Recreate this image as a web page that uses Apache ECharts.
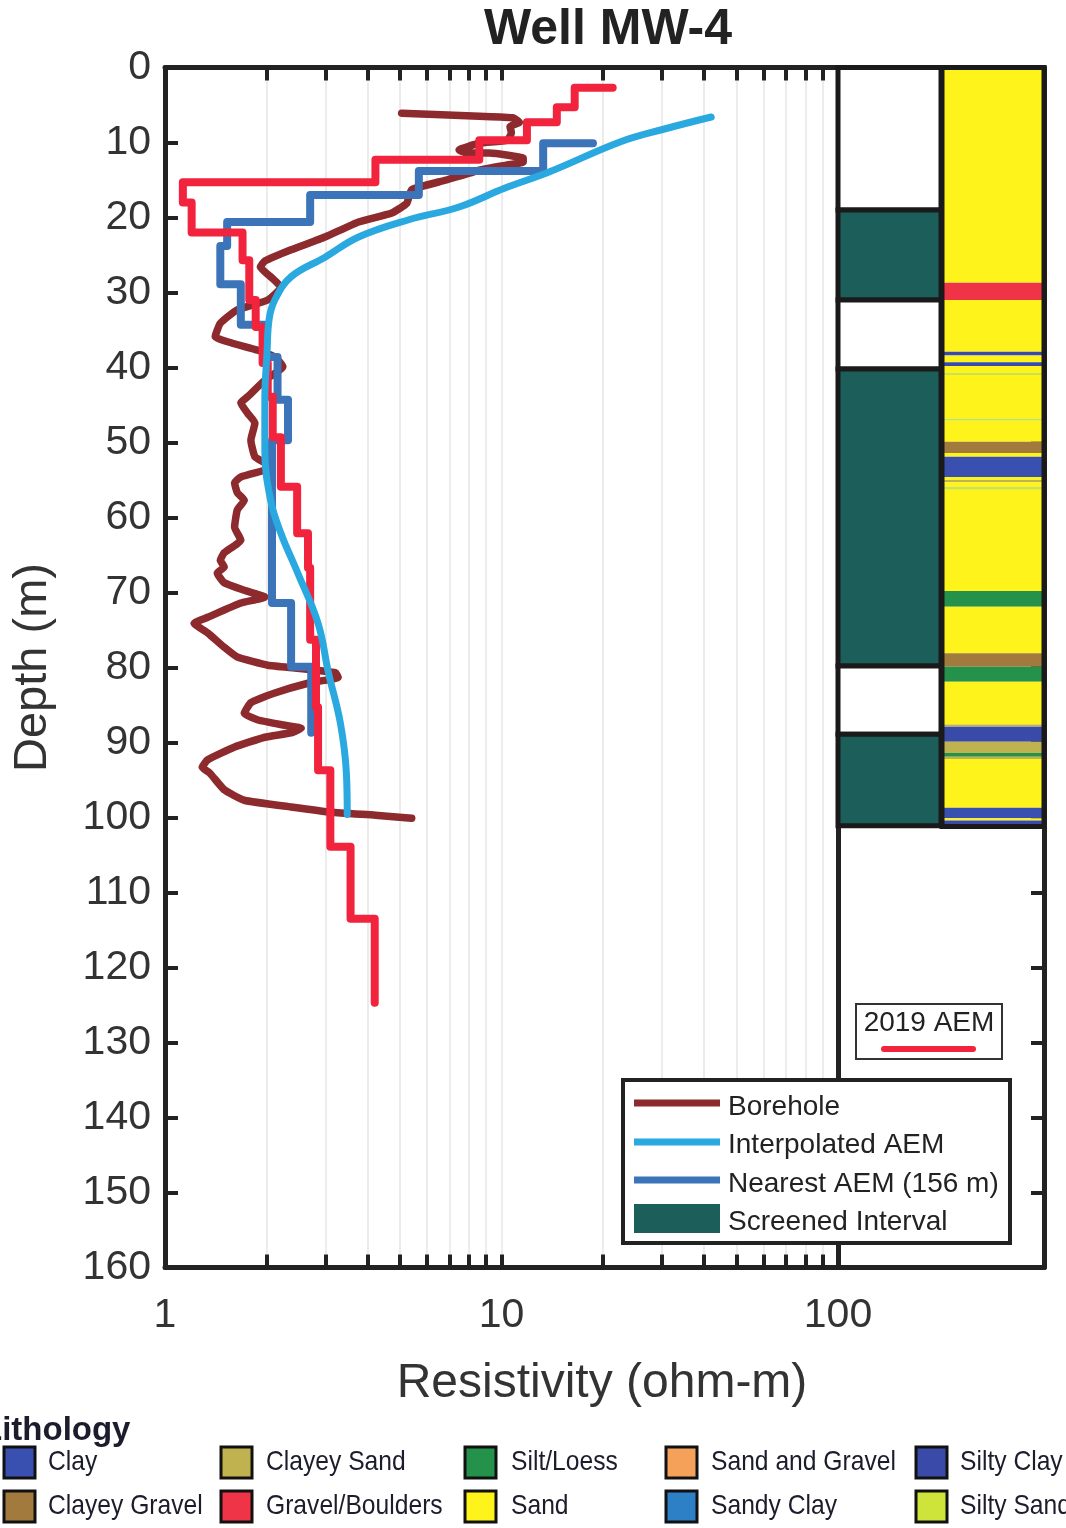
<!DOCTYPE html>
<html><head><meta charset="utf-8">
<script src="https://cdn.jsdelivr.net/npm/echarts@6/dist/echarts.min.js"></script>
<style>html,body{margin:0;padding:0;background:#fff}#c{width:1066px;height:1528px}</style>
</head><body><div id="c"></div>
<script>
// ---------------- DATA ----------------
// Borehole resistivity log (ohm-m) vs depth (m)
const boreholeRes = [5.05,8.59,10.8,11.3,10.6,10.7,10.4,8.59,7.48,7.86,9.20,11.6,11.6,10.4,8.59,6.85,5.41,5.23,4.72,3.76,2.99,2.37,1.98,1.92,2.06,2.21,2.02,1.64,1.46,1.41,1.57,1.89,2.12,2.24,1.98,1.76,1.68,1.76,1.85,1.80,1.85,1.98,2.06,1.98,1.68,1.61,1.64,1.72,1.64,1.61,1.68,1.50,1.46,1.50,1.43,1.50,1.72,1.98,1.68,1.34,1.22,1.34,1.50,1.64,2.02,2.48,3.21,3.27,2.66,2.12,1.80,1.72,1.89,2.27,2.54,2.37,1.98,1.61,1.34,1.29,1.36,1.50,1.72,2.37,3.12,4.22,5.41];
const boreholeDepth = [6.1,6.5,6.7,7.3,7.9,8.7,9.7,10.1,11.0,11.4,11.4,12.1,12.6,13.0,13.7,15.0,16.3,18.1,19.4,20.6,22.6,24.3,25.8,26.6,27.9,29.3,31.0,32.3,34.1,35.9,36.7,37.7,38.6,39.9,41.7,43.9,44.7,46.1,47.4,49.7,51.9,52.7,53.3,53.7,54.6,55.4,56.7,57.7,59.0,61.3,63.0,64.7,65.7,66.6,67.4,68.7,69.7,70.6,71.4,73.3,74.1,75.4,77.3,78.6,79.7,80.1,80.7,81.3,82.1,83.4,84.7,86.1,87.0,87.7,88.1,88.7,89.3,90.6,92.3,93.3,94.1,96.3,97.7,98.6,99.3,99.7,100.1];

// Interpolated AEM (smooth)
const interpRes = [42.0,30.5,22.6,13.9,10.2,7.48,5.30,3.76,2.99,2.37,2.12,2.04,2.01,1.98,1.98,2.06,2.21,2.48,2.85,3.06,3.32,3.46,3.48];
const interpDepth = [6.6,8.2,9.9,13.9,16.1,18.6,20.3,22.6,25.3,27.9,31.0,33.5,38.0,44.3,51.0,57.7,62.1,67.4,74.1,80.7,87.4,94.1,99.6];

// Nearest AEM (156 m) layered model
const nearestStart = [18.7, 10.1];
const nearestBounds = [10.1,13.8,17.0,20.6,23.8,28.9,34.3,38.6,44.3,49.7,71.4,79.9,88.7];
const nearestRes = [13.3,5.68,2.70,1.53,1.46,1.68,1.98,2.16,2.32,2.08,2.37,2.72];

// 2019 AEM layered model
const aemStart = [21.4, 2.7];
const aemBounds = [2.7,5.3,7.3,9.7,12.3,15.3,18.0,22.0,25.7,31.0,34.6,39.4,43.9,49.3,55.9,62.1,66.7,76.3,85.3,93.7,103.9,113.5,124.7];
const aemRes = [16.5,14.6,11.9,8.59,4.22,1.13,1.20,1.70,1.78,1.86,1.95,2.02,2.09,2.21,2.47,2.66,2.70,2.81,2.85,3.10,3.56,4.20];

// Screened intervals
const screenTop = [0,19.0,31.0,40.2,79.8,88.9];
const screenBottom = [19.0,31.0,40.2,79.8,88.9,101.1];
const screenKind = ['Blank','Screened','Blank','Screened','Blank','Screened'];

// Lithology log
const lithTop =    [0,28.7,31.0,37.9,38.4,39.3,39.8,40.7,41.0,46.8,47.1,49.9,51.4,51.9,54.6,55.0,55.3,55.9,56.3,69.8,71.9,78.1,79.9,81.9,87.6,87.9,89.9,91.4,91.9,92.2,98.7,100.1,100.4,100.9];
const lithBottom = [28.7,31.0,37.9,38.4,39.3,39.8,40.7,41.0,46.8,47.1,49.9,51.4,51.9,54.6,55.0,55.3,55.9,56.3,69.8,71.9,78.1,79.9,81.9,87.6,87.9,89.9,91.4,91.9,92.2,98.7,100.1,100.4,100.9,101.2];
const lithType = ['Sand','Gravel/Boulders','Sand','Silty Clay','Sand','Silty Clay','Sand','Silty Sand','Sand','Silty Sand','Sand','Clayey Gravel','Sand','Clay','Sand','Clayey Sand','Sand','Silty Sand','Sand','Silt/Loess','Sand','Clayey Gravel','Silt/Loess','Sand','Clayey Sand','Silty Clay','Clayey Sand','Silt/Loess','Clayey Sand','Sand','Clay','Sand','Silty Clay','Sand'];

// Axis tick labels
const xMajorTicks = [1,10,100];
const xMinorTicks = [2,3,4,5,6,7,8,9,10,20,30,40,50,60,70,80,90];
const lithLegendNames = ['Clay','Clayey Sand','Silt/Loess','Sand and Gravel','Silty Clay','Clayey Gravel','Gravel/Boulders','Sand','Sandy Clay','Silty Sand'];

// ---------------- STYLE ----------------
const FONT = "'Liberation Sans', Arial, Helvetica, sans-serif";
const AX = '#222';
const C_BORE = '#8c2a2e', C_INTERP = '#2aa8e0', C_NEAR = '#3b74b9', C_AEM = '#f2243d', C_TEAL = '#1b5e5a';
const lithColors = {
  'Clay':'#3a50b0','Clayey Sand':'#c0b24e','Silt/Loess':'#24924a','Sand and Gravel':'#f5a15a','Silty Clay':'#3a4aa8',
  'Clayey Gravel':'#a37a3e','Gravel/Boulders':'#ef3448','Sand':'#fff31c','Sandy Clay':'#2d80c6','Silty Sand':'#cfe43a'
};

function zip(a,b){return a.map((v,i)=>[v,b[i]]);}
function steps(start,bounds,vals){
  const p=[start];
  for(let i=0;i<vals.length;i++){p.push([vals[i],bounds[i]]);p.push([vals[i],bounds[i+1]]);}
  return p;
}

const chart = echarts.init(document.getElementById('c'));

const G1 = {left:165, top:67.5, width:673, height:1200};
const G2 = {left:838, top:67.5, width:206, height:1200};

function lineSeries(name,data,color,width,z,smooth){
  return {name,type:'line',xAxisIndex:0,yAxisIndex:0,data,showSymbol:false,symbol:'none',smooth:smooth||false,z,
    lineStyle:{color,width,cap:'round',join:'round'},emphasis:{disabled:true},silent:true};
}

// Legend graphics
const gfx = [];
gfx.push({type:'text',x:608,y:30,z:50,style:{text:'Well MW-4',font:"bold 50px "+FONT,fill:'#222',align:'center',verticalAlign:'middle'}});
gfx.push({type:'text',x:602,y:1384,z:50,style:{text:'Resistivity (ohm-m)',font:"48px "+FONT,fill:'#333',align:'center',verticalAlign:'middle'}});
// main legend
gfx.push({type:'rect',z:100,shape:{x:623,y:1080,width:387,height:163},style:{fill:'#fff',stroke:'#222',lineWidth:4}});
const legItems = [['Borehole',C_BORE,1103,1107],['Interpolated AEM',C_INTERP,1142,1145],['Nearest AEM (156 m)',C_NEAR,1180,1184]];
legItems.forEach(it=>{
  gfx.push({type:'line',z:101,shape:{x1:634,y1:it[2],x2:720,y2:it[2]},style:{stroke:it[1],lineWidth:7}});
  gfx.push({type:'text',z:101,x:728,y:it[3],style:{text:it[0],font:"28px "+FONT,fill:'#222',align:'left',verticalAlign:'middle'}});
});
gfx.push({type:'rect',z:101,shape:{x:634,y:1204,width:86,height:29},style:{fill:C_TEAL}});
gfx.push({type:'text',z:101,x:728,y:1222,style:{text:'Screened Interval',font:"28px "+FONT,fill:'#222',align:'left',verticalAlign:'middle'}});
// 2019 AEM box
gfx.push({type:'rect',z:100,shape:{x:856,y:1004,width:146,height:55},style:{fill:'#fff',stroke:'#333',lineWidth:2}});
gfx.push({type:'text',z:101,x:929,y:1023,style:{text:'2019 AEM',font:"28px "+FONT,fill:'#222',align:'center',verticalAlign:'middle'}});
gfx.push({type:'line',z:101,shape:{x1:884,y1:1049,x2:973,y2:1049},style:{stroke:C_AEM,lineWidth:6,lineCap:'round'}});
// lithology legend
gfx.push({type:'text',z:50,x:-18,y:1431,style:{text:'Lithology',font:"bold 33px "+FONT,fill:'#1c1c2c',align:'left',verticalAlign:'middle'}});
const colX=[4,221,465,666,916], rowY=[1447,1491], txtX=[48,266,511,711,960];
lithLegendNames.forEach((n,i)=>{
  const c=i%5, r=Math.floor(i/5);
  gfx.push({type:'rect',z:50,shape:{x:colX[c],y:rowY[r],width:31,height:31},style:{fill:lithColors[n],stroke:'#111',lineWidth:3}});
  gfx.push({type:'text',z:50,x:txtX[c],y:rowY[r]+15,scaleX:0.88,originX:0,originY:0,style:{text:n,font:"28px "+FONT,fill:'#1c1c2c',align:'left',verticalAlign:'middle'}});
});

const option = {
  animation:false,
  backgroundColor:'#fff',
  grid:[Object.assign({containLabel:false},G1),Object.assign({containLabel:false},G2)],
  xAxis:[
    {gridIndex:0,type:'log',logBase:10,min:1,max:100,position:'bottom',
     axisLine:{show:true,onZero:false,lineStyle:{color:AX,width:5}},
     axisTick:{show:true,inside:true,length:13,customValues:xMinorTicks,lineStyle:{color:AX,width:4}},
     axisLabel:{show:true,customValues:xMajorTicks,fontSize:41,color:'#333',fontFamily:FONT,margin:28},
     splitLine:{show:true,lineStyle:{color:'#ececec',width:2}},minorTick:{show:false}},
    {gridIndex:0,type:'log',logBase:10,min:1,max:100,position:'top',
     axisLine:{show:true,onZero:false,lineStyle:{color:AX,width:5}},
     axisTick:{show:true,inside:true,length:13,customValues:xMinorTicks,lineStyle:{color:AX,width:4}},
     axisLabel:{show:false},splitLine:{show:false}},
    {gridIndex:1,type:'value',min:0,max:1,position:'bottom',
     axisLine:{show:true,onZero:false,lineStyle:{color:AX,width:5}},axisTick:{show:false},axisLabel:{show:false},splitLine:{show:false}},
    {gridIndex:1,type:'value',min:0,max:1,position:'top',
     axisLine:{show:true,onZero:false,lineStyle:{color:AX,width:5}},axisTick:{show:false},axisLabel:{show:false},splitLine:{show:false}}
  ],
  yAxis:[
    {gridIndex:0,type:'value',inverse:true,min:0,max:160,interval:10,position:'left',
     axisLine:{show:true,onZero:false,lineStyle:{color:AX,width:5}},
     axisTick:{show:true,inside:true,length:13,lineStyle:{color:AX,width:4}},
     axisLabel:{fontSize:41,color:'#333',fontFamily:FONT,margin:14},
     splitLine:{show:false},
     name:'Depth (m)',nameLocation:'middle',nameGap:108,nameRotate:90,
     nameTextStyle:{fontSize:47,color:'#333',fontFamily:FONT}},
    {gridIndex:1,type:'value',inverse:true,min:0,max:160,position:'left',
     axisLine:{show:true,onZero:false,lineStyle:{color:AX,width:5}},axisTick:{show:false},axisLabel:{show:false},splitLine:{show:false}},
    {gridIndex:1,type:'value',inverse:true,min:0,max:160,interval:10,position:'right',
     axisLine:{show:true,onZero:false,lineStyle:{color:AX,width:5}},
     axisTick:{show:true,inside:true,length:13,lineStyle:{color:AX,width:4}},axisLabel:{show:false},splitLine:{show:false}}
  ],
  series:[
    lineSeries('Borehole',zip(boreholeRes,boreholeDepth),C_BORE,7.5,3,0.15),
    lineSeries('Nearest AEM (156 m)',steps(nearestStart,nearestBounds,nearestRes),C_NEAR,8,4,false),
    lineSeries('2019 AEM',steps(aemStart,aemBounds,aemRes),C_AEM,8,5,false),
    lineSeries('Interpolated AEM',zip(interpRes,interpDepth),C_INTERP,7,6,0.4),
    {type:'custom',name:'Screened Interval',xAxisIndex:2,yAxisIndex:1,z:5,silent:true,
     data:screenTop.map((t,i)=>[t,screenBottom[i],screenKind[i]==='Screened'?1:0]),
     encode:{y:[0,1]},
     renderItem:function(params,api){
       const p0=api.coord([0,api.value(0)]), p1=api.coord([0.5,api.value(1)]);
       return {type:'rect',shape:{x:p0[0],y:p0[1],width:p1[0]-p0[0],height:p1[1]-p0[1]},
         style:{fill:api.value(2)?C_TEAL:'#fff',stroke:'#1a1a1a',lineWidth:5}};
     }},
    {type:'custom',name:'Lithology',xAxisIndex:2,yAxisIndex:1,z:5,silent:true,
     data:lithTop.map((t,i)=>[t,lithBottom[i],lithType[i]]),
     dimensions:[{name:'top',type:'number'},{name:'bottom',type:'number'},{name:'type',type:'ordinal'}],
     encode:{y:[0,1]},
     renderItem:function(params,api){
       const p0=api.coord([0.5,api.value(0)]), p1=api.coord([1,api.value(1)]);
       const t=lithType[params.dataIndex];
       return {type:'rect',shape:{x:p0[0],y:p0[1],width:p1[0]-p0[0],height:p1[1]-p0[1]},
         style:{fill:lithColors[t],stroke:null}};
     }},
    {type:'custom',name:'Lithology frame',xAxisIndex:2,yAxisIndex:1,z:6,silent:true,
     data:[[lithTop[0],lithBottom[lithBottom.length-1]]],
     encode:{y:[0,1]},
     renderItem:function(params,api){
       const p0=api.coord([0.5,api.value(0)]), p1=api.coord([1,api.value(1)]);
       return {type:'rect',shape:{x:p0[0]+1,y:p0[1],width:p1[0]-p0[0]-1,height:p1[1]-p0[1]},
         style:{fill:null,stroke:'#1a1a1a',lineWidth:5}};
     }}
  ],
  graphic:gfx
};
chart.setOption(option);
</script></body></html>
